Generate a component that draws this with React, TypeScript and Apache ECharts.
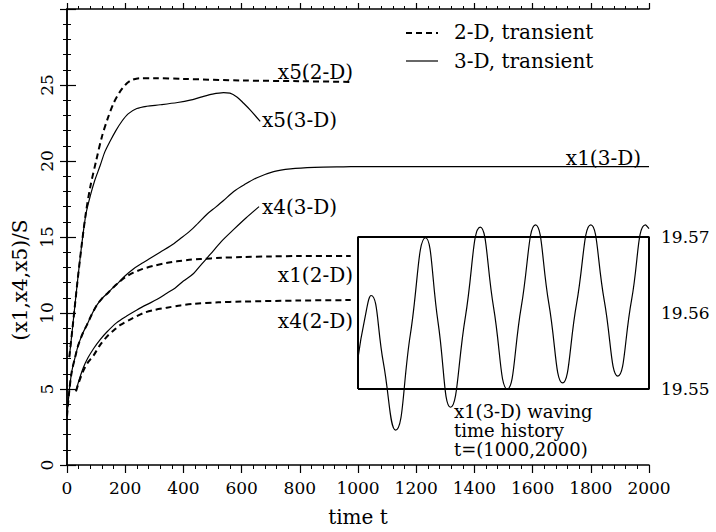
import React, { useEffect, useRef } from "react";
import * as echarts from "echarts";

// ---- data ----
const x5_2D: number[][] = [
  [8, 7.1], [20, 9.2], [35, 11.9], [50, 14.4], [65, 16.6], [80, 18.3], [100, 20.0],
  [120, 21.6], [140, 22.8], [160, 23.8], [180, 24.5], [200, 25.0], [220, 25.3],
  [250, 25.45], [300, 25.45], [400, 25.4], [600, 25.3], [800, 25.25], [980, 25.2],
];
const x5_3D: number[][] = [
  [8, 7.1], [20, 9.2], [35, 11.9], [50, 14.4], [65, 16.5], [80, 17.7], [95, 18.7],
  [114, 19.7], [130, 20.6], [148, 21.3], [168, 22.0], [188, 22.6], [210, 23.1],
  [240, 23.45], [274, 23.6], [320, 23.7], [380, 23.85], [423, 24.0], [460, 24.2],
  [500, 24.4], [538, 24.5], [560, 24.47], [585, 24.2], [607, 23.8], [630, 23.35], [664, 22.6],
];
const x1_2D: number[][] = [
  [0, 3.2], [8, 4.9], [16, 6.1], [28, 7.1], [39, 7.9], [55, 8.7], [68, 9.2], [85, 9.9],
  [102, 10.5], [120, 10.95], [142, 11.35], [160, 11.7], [177, 12.0], [200, 12.35],
  [228, 12.65], [260, 12.9], [297, 13.1], [340, 13.28], [378, 13.4], [420, 13.5],
  [458, 13.55], [530, 13.63], [600, 13.68], [700, 13.72], [800, 13.75], [975, 13.75],
];
const x1_3D: number[][] = [
  [0, 3.2], [8, 4.9], [16, 6.1], [28, 7.1], [39, 7.9], [55, 8.7], [68, 9.2], [85, 9.9],
  [102, 10.5], [120, 10.95], [142, 11.35], [160, 11.7], [177, 12.0], [200, 12.45],
  [228, 12.9], [256, 13.25], [286, 13.6], [320, 14.0], [355, 14.4], [390, 14.9],
  [423, 15.4], [450, 15.9], [481, 16.5], [510, 16.95], [538, 17.4], [573, 18.0],
  [610, 18.45], [653, 18.9], [710, 19.3], [768, 19.48], [850, 19.58], [950, 19.62],
  [1000, 19.63], [2000, 19.63],
];
const x4_2D: number[][] = [
  [31, 4.85], [40, 5.4], [56, 6.2], [72, 6.75], [91, 7.2], [114, 7.9], [140, 8.5],
  [160, 8.85], [182, 9.2], [220, 9.6], [263, 10.0], [300, 10.2], [343, 10.35],
  [390, 10.5], [435, 10.6], [520, 10.7], [600, 10.75], [800, 10.82], [975, 10.85],
];
const x4_3D: number[][] = [
  [31, 4.85], [40, 5.5], [56, 6.4], [72, 7.05], [91, 7.65], [114, 8.25], [137, 8.75],
  [170, 9.35], [205, 9.8], [240, 10.2], [274, 10.55], [310, 10.9], [343, 11.3],
  [372, 11.65], [400, 12.1], [435, 12.6], [462, 13.2], [492, 13.85], [530, 14.7],
  [573, 15.5], [615, 16.25], [660, 17.0],
];
// x1(3-D) waving time history, t = 1000..2000 (right axis)
const wave: number[][] = [
  [1000, 19.5541], [1022, 19.559], [1045, 19.5623], [1087, 19.5535], [1129, 19.5446],
  [1180, 19.5572], [1232, 19.5699], [1275, 19.5588], [1318, 19.5476], [1369, 19.5595],
  [1420, 19.5713], [1466, 19.5607], [1513, 19.55], [1561, 19.5608], [1610, 19.5716],
  [1656, 19.5612], [1703, 19.5508], [1751, 19.5612], [1800, 19.5716], [1846, 19.5617],
  [1893, 19.5517], [1940, 19.5617], [1988, 19.5716], [2000, 19.5711],
];
const insetBox: number[][] = [
  [1000, 19.55], [1000, 19.57], [2000, 19.57], [2000, 19.55], [1000, 19.55],
];
const rightLabels = ["19.55", "19.56", "19.57"];

const FONT = "DejaVu Serif";
const DASH = [6, 4];

export default function App() {
  const ref = useRef<HTMLDivElement>(null);
  useEffect(() => {
    if (!ref.current) return;
    const chart = echarts.init(ref.current, undefined, { renderer: "svg" });
    const axisLine = { show: true, lineStyle: { color: "#000", width: 1.5 } };
    const labelStyle = { color: "#000", fontFamily: FONT, fontSize: 17 };
    const annot = (text: string, x: number, y: number, align: string, size = 20) => ({
      type: "text",
      x,
      y,
      style: {
        text, fill: "#000", font: `${size}px '${FONT}'`, textAlign: align,
        textVerticalAlign: "middle",
      },
    });
    const dashed = (data: number[][]) => ({
      type: "line", data, showSymbol: false, symbol: "none", smooth: 0.3,
      lineStyle: { color: "#000", width: 2, type: DASH }, silent: true,
    });
    const solid = (data: number[][], smooth = 0.3, yi = 0) => ({
      type: "line", data, showSymbol: false, symbol: "none", smooth, yAxisIndex: yi,
      lineStyle: { color: "#000", width: 1.2 }, silent: true,
    });
    chart.setOption({
      animation: false,
      backgroundColor: "#fff",
      grid: { left: 67, right: 67, top: 9, bottom: 61 },
      xAxis: [
        {
          type: "value", min: 0, max: 2000, interval: 200, position: "bottom",
          axisLine, splitLine: { show: false },
          axisTick: { show: true, length: 8, lineStyle: { color: "#000", width: 1.2 } },
          minorTick: { show: true, splitNumber: 5, length: 4, lineStyle: { color: "#000", width: 1 } },
          axisLabel: { ...labelStyle, margin: 14, formatter: (v: number) => String(v) },
          name: "time t", nameLocation: "middle", nameGap: 42,
          nameTextStyle: { color: "#000", fontFamily: FONT, fontSize: 20 },
        },
        {
          type: "value", min: 0, max: 2000, interval: 200, position: "top",
          axisLine, splitLine: { show: false },
          axisTick: { show: true, length: 6, lineStyle: { color: "#000", width: 1.2 } },
          minorTick: { show: true, splitNumber: 5, length: 3, lineStyle: { color: "#000", width: 1 } },
          axisLabel: { show: false },
        },
      ],
      yAxis: [
        {
          type: "value", min: 0, max: 30, interval: 5, position: "left",
          axisLine, splitLine: { show: false },
          axisTick: { show: true, length: 7, lineStyle: { color: "#000", width: 1.2 } },
          minorTick: { show: true, splitNumber: 5, length: 4, lineStyle: { color: "#000", width: 1 } },
          axisLabel: {
            ...labelStyle, rotate: 90, margin: 12,
            formatter: (v: number) => (v >= 30 ? "" : String(v)),
          },
        },
        {
          type: "value", min: 19.54, max: 19.6, interval: 0.01, position: "right",
          axisLine, splitLine: { show: false },
          axisTick: { show: true, length: 9, lineStyle: { color: "#000", width: 1.2 } },
          minorTick: { show: true, splitNumber: 5, length: 4, lineStyle: { color: "#000", width: 1 } },
          axisLabel: {
            ...labelStyle, margin: 12,
            formatter: (v: number) => {
              const s = v.toFixed(2);
              return rightLabels.includes(s) ? s : "";
            },
          },
        },
      ],
      series: [
        dashed(x5_2D),
        solid(x5_3D),
        dashed(x1_2D),
        solid(x1_3D),
        dashed(x4_2D),
        solid(x4_3D),
        solid(wave, 0.5, 1),
        {
          type: "line", data: insetBox, yAxisIndex: 1, showSymbol: false, symbol: "none",
          lineStyle: { color: "#000", width: 2 }, silent: true,
        },
      ],
      graphic: [
        annot("x5(2-D)", 353, 72, "right"),
        annot("x5(3-D)", 262, 120, "left"),
        annot("x1(3-D)", 641, 158, "right"),
        annot("x4(3-D)", 262, 207, "left"),
        annot("x1(2-D)", 353, 275, "right"),
        annot("x4(2-D)", 353, 321, "right"),
        annot("x1(3-D) waving", 454, 411, "left", 18),
        annot("time history", 454, 430, "left", 18),
        annot("t=(1000,2000)", 454, 449, "left", 18),
        {
          type: "line", shape: { x1: 406, y1: 33, x2: 438, y2: 33 },
          style: { stroke: "#000", lineWidth: 2, lineDash: DASH },
        },
        annot("2-D, transient", 454, 32, "left"),
        {
          type: "line", shape: { x1: 406, y1: 61, x2: 438, y2: 61 },
          style: { stroke: "#000", lineWidth: 1.2 },
        },
        annot("3-D, transient", 454, 61, "left"),
        {
          type: "text", x: 20, y: 280, rotation: Math.PI / 2,
          style: {
            text: "(x1,x4,x5)/S", fill: "#000", font: `20px '${FONT}'`,
            textAlign: "center", textVerticalAlign: "middle",
          },
        },
      ],
    });
    return () => chart.dispose();
  }, []);
  return (
    <div
      ref={ref}
      style={{ position: "fixed", left: 0, top: 0, width: 716, height: 532 }}
    />
  );
}
